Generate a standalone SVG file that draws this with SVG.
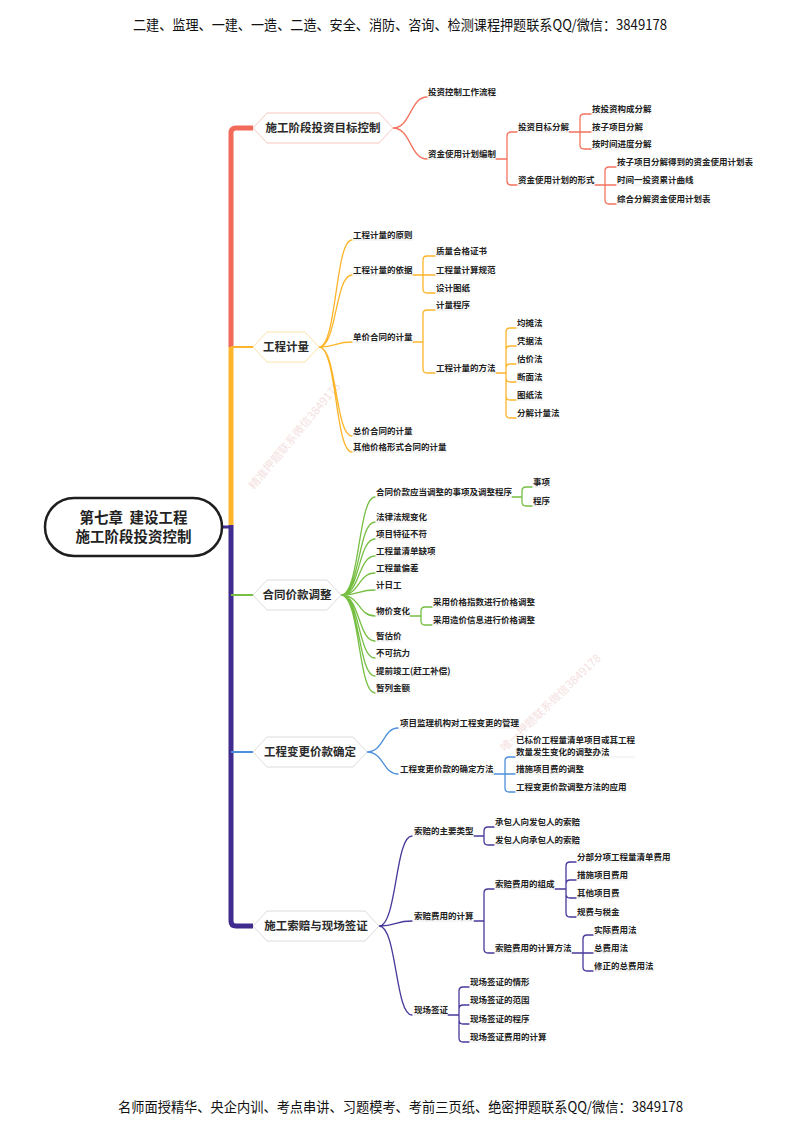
<svg xmlns="http://www.w3.org/2000/svg" width="800" height="1130" viewBox="0 0 800 1130">
<style>
.t{font-family:"Noto Sans CJK SC","Noto Sans",sans-serif;font-size:8.5px;font-weight:700;fill:#222}
.n{font-family:"Noto Sans CJK SC","Noto Sans",sans-serif;font-size:11.5px;font-weight:700;fill:#2a2a2a;text-anchor:middle}
.r{font-family:"Noto Sans CJK SC","Noto Sans",sans-serif;font-size:14.5px;font-weight:700;fill:#222;text-anchor:middle}
.hf{font-family:"Noto Sans CJK SC","Noto Sans",sans-serif;font-size:14px;fill:#111}
.wm{font-family:"Noto Sans CJK SC","Noto Sans",sans-serif;font-size:11px;fill:#ecc8c8;opacity:.55}
.ul{stroke:#ececec;stroke-width:1;fill:none}
.c{fill:none;stroke-width:1.3;stroke-linecap:round}
.red{stroke:#F4735E}.org{stroke:#FDB52B}.grn{stroke:#76BF43}.blu{stroke:#4C8FDA}.pur{stroke:#47399A}
.hex{fill:#fff;stroke-width:1}
</style>

<text class="hf" x="133" y="30" textLength="534" lengthAdjust="spacingAndGlyphs">二建、监理、一建、一造、二造、安全、消防、咨询、检测课程押题联系QQ/微信：3849178</text>
<text class="hf" x="118" y="1112" textLength="565" lengthAdjust="spacingAndGlyphs">名师面授精华、央企内训、考点串讲、习题模考、考前三页纸、绝密押题联系QQ/微信：3849178</text>

<text class="wm" transform="translate(254,490) rotate(-50)" textLength="135" lengthAdjust="spacingAndGlyphs">精准押题联系微信3849178</text>
<text class="wm" transform="translate(505,752) rotate(-44)" textLength="134" lengthAdjust="spacingAndGlyphs">唯一押题联系微信3849178</text>

<g id="connectors">
  <path d="M253,128 H236 Q231,128 231,133 V347" fill="none" stroke="#F26B5A" stroke-width="5"/>
  <path d="M231,347 V525" fill="none" stroke="#FDB52B" stroke-width="5"/>
  <path d="M231,525 V921 Q231,926 236,926 H253" fill="none" stroke="#3F2C8E" stroke-width="5"/>
  <path d="M222,527 H231" fill="none" stroke="#3F2C8E" stroke-width="3"/>
  <path d="M231,347 H253" fill="none" stroke="#FDB52B" stroke-width="2"/>
  <path d="M231,595 H253" fill="none" stroke="#76BF43" stroke-width="2"/>
  <path d="M231,752 H253" fill="none" stroke="#4C8FDA" stroke-width="2"/>

  <path class="c red" d="M393,128 C411,128 410,97 427,97 M393,128 C411,128 410,159 427,159"/>
  <path class="c red" d="M496,159 H507 M507,159 V136 Q507,132 511,132 H517 M507,159 V181 Q507,185 511,185 H517"/>
  <path class="c red" d="M569,132 H591 M580,132 V118 Q580,114 584,114 H591 M580,132 V145 Q580,149 584,149 H591"/>
  <path class="c red" d="M595,185 H616 M605,185 V171 Q605,167 609,167 H616 M605,185 V200 Q605,204 609,204 H616"/>

  <path class="c org" d="M319,347 C337,347 335,240 352,240 M319,347 C337,347 335,275 352,275 M319,347 C337,347 335,342 352,342 M319,347 C337,347 335,436 352,436 M319,347 C337,347 335,452 352,452"/>
  <path class="c org" d="M413,275 H435 M423,275 V260 Q423,256 427,256 H435 M423,275 V289 Q423,293 427,293 H435"/>
  <path class="c org" d="M413,342 H423 M423,342 V314 Q423,310 427,310 H435 M423,342 V369 Q423,373 427,373 H435"/>
  <path class="c org" d="M496,373 H506 M506,373 V332 Q506,328 510,328 H516 M506,373 V350 Q506,346 510,346 H516 M506,373 V368 Q506,364 510,364 H516 M506,373 V378 Q506,382 510,382 H516 M506,373 V396 Q506,400 510,400 H516 M506,373 V414 Q506,418 510,418 H516"/>

  <path class="c grn" d="M341,595 C360,595 358,497 375,497 M341,595 C360,595 358,522 375,522 M341,595 C360,595 358,539 375,539 M341,595 C360,595 358,556 375,556 M341,595 C360,595 358,573 375,573 M341,595 C360,595 358,590 375,590 M341,595 C360,595 358,616 375,616 M341,595 C360,595 358,641 375,641 M341,595 C360,595 358,658 375,658 M341,595 C360,595 358,676 375,676 M341,595 C360,595 358,693 375,693"/>
  <path class="c grn" d="M512,497 H522 M522,497 V491 Q522,487 526,487 H532 M522,497 V502 Q522,506 526,506 H532"/>
  <path class="c grn" d="M410,616 H421 M421,616 V611 Q421,607 425,607 H432 M421,616 V621 Q421,625 425,625 H432"/>

  <path class="c blu" d="M367,752 C384,752 383,728 398,728 M367,752 C384,752 383,774 398,774"/>
  <path class="c blu" d="M494,774 H515 M505,774 V761 Q505,757 509,757 H515 M505,774 V788 Q505,792 509,792 H515"/>

  <path class="c pur" d="M379,926 C397,926 395,836 412,836 M379,926 C397,926 395,921 412,921 M379,926 C397,926 395,1015 412,1015"/>
  <path class="c pur" d="M474,836 H484 M484,836 V831 Q484,827 488,827 H494 M484,836 V841 Q484,845 488,845 H494"/>
  <path class="c pur" d="M474,921 H484 M484,921 V893 Q484,889 488,889 H494 M484,921 V949 Q484,953 488,953 H494"/>
  <path class="c pur" d="M555,889 H566 M566,889 V866 Q566,862 570,862 H576 M566,889 V884 Q566,880 570,880 H576 M566,889 V894 Q566,898 570,898 H576 M566,889 V913 Q566,917 570,917 H576"/>
  <path class="c pur" d="M572,953 H593 M583,953 V939 Q583,935 587,935 H593 M583,953 V967 Q583,971 587,971 H593"/>
  <path class="c pur" d="M448,1015 H459 M459,1015 V991 Q459,987 463,987 H469 M459,1015 V1009 Q459,1005 463,1005 H469 M459,1015 V1020 Q459,1024 463,1024 H469 M459,1015 V1038 Q459,1042 463,1042 H469"/>

  <path class="ul" d="M428,97 H496 M428,159 H496 M518,132 H569 M518,185 H595 M592,114 H652 M592,132 H643 M592,149 H652 M617,167 H753 M617,185 H694 M617,204 H711
  M353,240 H413 M353,275 H413 M353,342 H413 M353,436 H413 M353,452 H447 M436,256 H487 M436,275 H496 M436,293 H470 M436,310 H470 M436,373 H496 M517,328 H543 M517,346 H543 M517,364 H543 M517,382 H543 M517,400 H543 M517,418 H560
  M376,497 H512 M376,522 H427 M376,539 H427 M376,556 H436 M376,573 H419 M376,590 H402 M376,616 H410 M376,641 H402 M376,658 H410 M376,676 H453 M376,693 H410 M533,487 H550 M533,506 H550 M433,607 H535 M433,625 H535
  M400,728 H519 M400,774 H494 M516,757 H635 M516,774 H584 M516,792 H627
  M414,836 H474 M414,921 H474 M414,1015 H448 M495,827 H580 M495,845 H580 M495,889 H555 M495,953 H572 M577,862 H671 M577,880 H628 M577,898 H620 M577,917 H620 M594,935 H637 M594,953 H628 M594,971 H654 M470,987 H530 M470,1005 H530 M470,1024 H530 M470,1042 H547"/>
</g>

<g id="root">
  <rect x="45" y="498" width="177" height="58" rx="29" fill="#fff" stroke="#1e1e1e" stroke-width="2.5"/>
  <text class="r" x="133.5" y="523" xml:space="preserve">第七章  建设工程</text>
  <text class="r" x="133.5" y="542">施工阶段投资控制</text>
</g>

<g id="n1">
  <polygon class="hex" stroke="#F7C8C0" points="253,128 267,113 379,113 393,128 379,143 267,143"/>
  <text class="n" x="323" y="132">施工阶段投资目标控制</text>
</g>
<g id="n2">
  <polygon class="hex" stroke="#FCE2A8" points="253,347 267,332 305,332 319,347 305,362 267,362"/>
  <text class="n" x="286" y="351">工程计量</text>
</g>
<g id="n3">
  <polygon class="hex" stroke="#dcdcdc" points="253,595 267,580 327,580 341,595 327,610 267,610"/>
  <text class="n" x="297" y="599">合同价款调整</text>
</g>
<g id="n4">
  <polygon class="hex" stroke="#dcdcdc" points="253,752 267,737 353,737 367,752 353,767 267,767"/>
  <text class="n" x="310" y="756">工程变更价款确定</text>
</g>
<g id="n5">
  <polygon class="hex" stroke="#dcdcdc" points="253,926 267,911 365,911 379,926 365,941 267,941"/>
  <text class="n" x="316" y="930">施工索赔与现场签证</text>
</g>

<g id="leaves1">
  <text class="t" x="428" y="95">投资控制工作流程</text>
  <text class="t" x="428" y="157">资金使用计划编制</text>
  <text class="t" x="518" y="130">投资目标分解</text>
  <text class="t" x="518" y="183">资金使用计划的形式</text>
  <text class="t" x="592" y="112">按投资构成分解</text>
  <text class="t" x="592" y="130">按子项目分解</text>
  <text class="t" x="592" y="147">按时间进度分解</text>
  <text class="t" x="617" y="165">按子项目分解得到的资金使用计划表</text>
  <text class="t" x="617" y="183">时间一投资累计曲线</text>
  <text class="t" x="617" y="202">综合分解资金使用计划表</text>
</g>
<g id="leaves2">
  <text class="t" x="353" y="238">工程计量的原则</text>
  <text class="t" x="353" y="273">工程计量的依据</text>
  <text class="t" x="353" y="340">单价合同的计量</text>
  <text class="t" x="353" y="434">总价合同的计量</text>
  <text class="t" x="353" y="450">其他价格形式合同的计量</text>
  <text class="t" x="436" y="254">质量合格证书</text>
  <text class="t" x="436" y="273">工程量计算规范</text>
  <text class="t" x="436" y="291">设计图纸</text>
  <text class="t" x="436" y="308">计量程序</text>
  <text class="t" x="436" y="371">工程计量的方法</text>
  <text class="t" x="517" y="326">均摊法</text>
  <text class="t" x="517" y="344">凭据法</text>
  <text class="t" x="517" y="362">估价法</text>
  <text class="t" x="517" y="380">断面法</text>
  <text class="t" x="517" y="398">图纸法</text>
  <text class="t" x="517" y="416">分解计量法</text>
</g>
<g id="leaves3">
  <text class="t" x="376" y="495">合同价款应当调整的事项及调整程序</text>
  <text class="t" x="376" y="520">法律法规变化</text>
  <text class="t" x="376" y="537">项目特征不符</text>
  <text class="t" x="376" y="554">工程量清单缺项</text>
  <text class="t" x="376" y="571">工程量偏差</text>
  <text class="t" x="376" y="588">计日工</text>
  <text class="t" x="376" y="614">物价变化</text>
  <text class="t" x="376" y="639">暂估价</text>
  <text class="t" x="376" y="656">不可抗力</text>
  <text class="t" x="376" y="674">提前竣工(赶工补偿)</text>
  <text class="t" x="376" y="691">暂列金额</text>
  <text class="t" x="533" y="485">事项</text>
  <text class="t" x="533" y="504">程序</text>
  <text class="t" x="433" y="605">采用价格指数进行价格调整</text>
  <text class="t" x="433" y="623">采用造价信息进行价格调整</text>
</g>
<g id="leaves4">
  <text class="t" x="400" y="726">项目监理机构对工程变更的管理</text>
  <text class="t" x="400" y="772">工程变更价款的确定方法</text>
  <text class="t" x="516" y="743">已标价工程量清单项目或其工程</text>
  <text class="t" x="516" y="755">数量发生变化的调整办法</text>
  <text class="t" x="516" y="772">措施项目费的调整</text>
  <text class="t" x="516" y="790">工程变更价款调整方法的应用</text>
</g>
<g id="leaves5">
  <text class="t" x="414" y="834">索赔的主要类型</text>
  <text class="t" x="414" y="919">索赔费用的计算</text>
  <text class="t" x="414" y="1013">现场签证</text>
  <text class="t" x="495" y="825">承包人向发包人的索赔</text>
  <text class="t" x="495" y="843">发包人向承包人的索赔</text>
  <text class="t" x="495" y="887">索赔费用的组成</text>
  <text class="t" x="495" y="951">索赔费用的计算方法</text>
  <text class="t" x="577" y="860">分部分项工程量清单费用</text>
  <text class="t" x="577" y="878">措施项目费用</text>
  <text class="t" x="577" y="896">其他项目费</text>
  <text class="t" x="577" y="915">规费与税金</text>
  <text class="t" x="594" y="933">实际费用法</text>
  <text class="t" x="594" y="951">总费用法</text>
  <text class="t" x="594" y="969">修正的总费用法</text>
  <text class="t" x="470" y="985">现场签证的情形</text>
  <text class="t" x="470" y="1003">现场签证的范围</text>
  <text class="t" x="470" y="1022">现场签证的程序</text>
  <text class="t" x="470" y="1040">现场签证费用的计算</text>
</g>
</svg>
